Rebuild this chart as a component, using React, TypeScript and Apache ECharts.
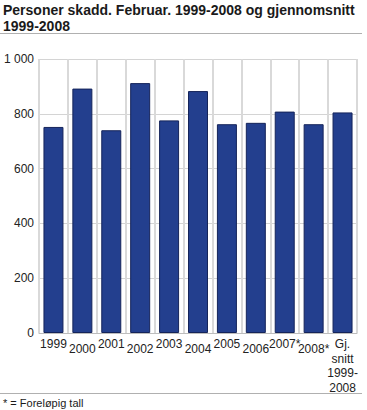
import React, { useEffect, useRef } from "react";
import * as echarts from "echarts";

const categories = ["1999", "2000", "2001", "2002", "2003", "2004", "2005", "2006", "2007*", "2008*", "Gj.\nsnitt\n1999-\n2008"];
const values = [752, 892, 740, 912, 776, 883, 762, 767, 808, 762, 805];
const yTicks = [0, 200, 400, 600, 800, 1000];
const titleText = "Personer skadd. Februar. 1999-2008 og gjennomsnitt\n1999-2008";
const footText = "* = Foreløpig tall";

const FONT = "'Liberation Sans', Arial, sans-serif";

export default function App() {
  const ref = useRef<HTMLDivElement>(null);
  useEffect(() => {
    const chart = echarts.init(ref.current!, null, { renderer: "svg" });
    chart.setOption({
      animation: false,
      textStyle: { fontFamily: FONT },
      title: [
        {
          text: titleText,
          left: 3,
          top: 2,
          padding: 0,
          textStyle: { fontFamily: FONT, fontSize: 14, fontWeight: "bold", color: "#1a1a1a", lineHeight: 16 },
        },
        {
          text: footText,
          left: 3,
          top: 396,
          padding: 0,
          textStyle: { fontFamily: FONT, fontSize: 11, fontWeight: "normal", color: "#1a1a1a", lineHeight: 13 },
        },
      ],
      graphic: [
        { type: "line", shape: { x1: 0, y1: 33.5, x2: 362, y2: 33.5 }, style: { stroke: "#b0b0b0", lineWidth: 1 } },
        { type: "line", shape: { x1: 0, y1: 393.5, x2: 362, y2: 393.5 }, style: { stroke: "#b0b0b0", lineWidth: 1 } },
      ],
      grid: { left: 39, right: 10, top: 59, bottom: 77, containLabel: false },
      xAxis: {
        type: "category",
        data: categories,
        axisTick: { show: false },
        axisLine: { show: true, lineStyle: { color: "#bdbdbd", width: 1 } },
        splitLine: { show: true, lineStyle: { color: "#d9d9d9", width: 2 } },
        axisLabel: {
          interval: 0,
          margin: 4,
          fontFamily: FONT,
          fontSize: 12,
          color: "#222",
          lineHeight: 14.5,
          formatter: (v: string, i: number) => (i % 2 === 1 ? `{o|${v}}` : v),
          rich: { o: { padding: [9, 0, 0, 0], fontFamily: FONT, fontSize: 12, color: "#222", lineHeight: 14.5 } },
        },
      },
      yAxis: {
        type: "value",
        min: 0,
        max: 1000,
        interval: 200,
        axisLine: { show: false },
        axisTick: { show: false },
        splitLine: { show: true, lineStyle: { color: "#d4d4d4", width: 1 } },
        axisLabel: {
          margin: 5,
          fontFamily: FONT,
          fontSize: 12,
          color: "#222",
          formatter: (v: number) => (yTicks.includes(v) ? String(v).replace(/\B(?=(\d{3})+(?!\d))/g, " ") : ""),
        },
      },
      series: [
        {
          type: "bar",
          data: values,
          barWidth: 20,
          itemStyle: { color: "#233f8e", borderColor: "#15245a", borderWidth: 1 },
        },
      ],
    });
    return () => chart.dispose();
  }, []);
  return <div ref={ref} style={{ width: 367, height: 410, position: "absolute", left: 0, top: 0 }} />;
}
